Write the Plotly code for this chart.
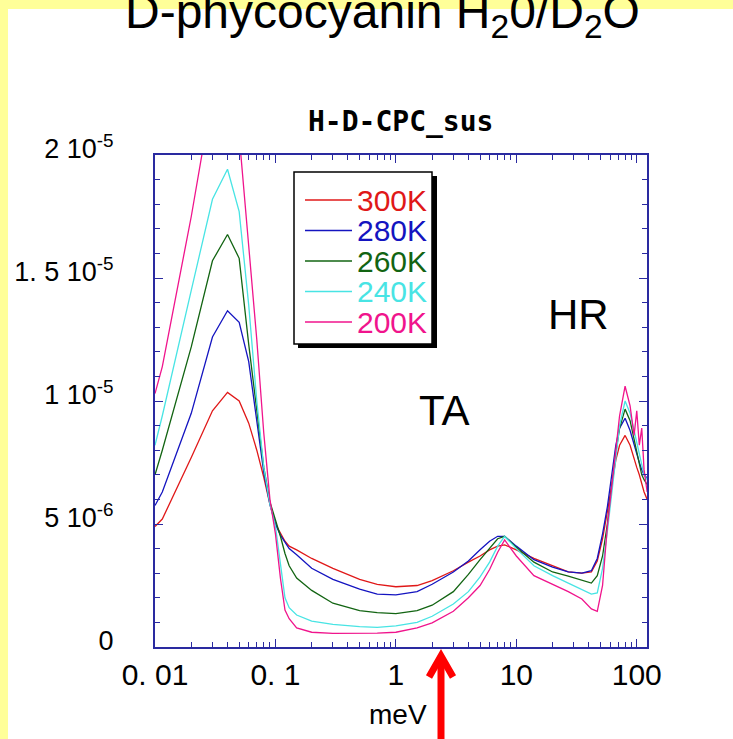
import plotly.graph_objects as go

# ---------------- data ----------------
energy_meV = [0.01, 0.0115, 0.02, 0.03, 0.04, 0.05, 0.06, 0.07, 0.08, 0.09, 0.1, 0.11, 0.12, 0.13,
              0.15, 0.2, 0.3, 0.5, 0.7, 1.0, 1.5, 2, 3, 4, 5, 6, 7, 8, 10, 14, 20, 27, 35, 42,
              47, 52, 57, 62, 67, 72, 80, 88, 95, 100, 105, 110, 115, 122]

# susceptibility values in units of 1e-6
sus_300K = [4.9, 5.2, 7.7, 9.6, 10.35, 10.0, 9.1, 8.0, 6.9, 5.8, 5.0, 4.6, 4.3, 4.1, 3.95, 3.6, 3.2,
            2.75, 2.55, 2.45, 2.5, 2.7, 3.1, 3.45, 3.7, 3.95, 4.1, 4.15, 3.95, 3.6, 3.3, 3.05, 3.0,
            3.05, 3.5, 4.4, 5.5, 6.7, 7.6, 8.2, 8.6, 8.2, 7.6, 7.3, 7.0, 6.6, 6.3, 6.0]
sus_280K = [5.75, 6.3, 9.5, 12.6, 13.67, 13.2, 11.6, 9.3, 7.1, 5.8, 5.0, 4.55, 4.25, 4.0, 3.75, 3.2,
            2.75, 2.35, 2.15, 2.12, 2.25, 2.55, 3.05, 3.5, 3.95, 4.3, 4.5, 4.5, 4.1, 3.55, 3.25, 3.05,
            3.0, 3.1, 3.6, 4.6, 5.7, 7.0, 8.2, 8.9, 9.3, 8.8, 8.2, 7.9, 7.5, 7.2, 7.0, 6.86]
sus_260K = [7.0, 8.0, 12.2, 15.7, 16.77, 15.8, 12.3, 9.6, 7.3, 5.9, 5.2, 4.5, 3.8, 3.3, 2.8, 2.3,
            1.78, 1.48, 1.4, 1.36, 1.48, 1.7, 2.25, 2.95, 3.55, 4.0, 4.4, 4.5, 4.05, 3.45, 3.05, 2.88,
            2.7, 2.6, 2.9, 3.7, 5.0, 6.5, 7.9, 8.9, 9.67, 9.2, 8.4, 8.0, 7.4, 7.0, 6.8, 6.6]
sus_240K = [8.2, 9.4, 14.5, 18.2, 19.42, 17.7, 13.9, 10.0, 7.3, 5.8, 4.9, 3.3, 2.0, 1.6, 1.3, 1.05,
            0.92, 0.83, 0.8, 0.86, 1.0, 1.25, 1.75, 2.25, 2.85, 3.45, 4.1, 4.5, 4.0, 3.3, 2.9, 2.6,
            2.35, 2.15, 2.2, 3.2, 4.7, 6.3, 7.8, 9.0, 10.0, 9.5, 8.8, 8.3, 7.8, 7.4, 7.0, 6.8]
sus_200K = [10.3, 11.4, 17.5, 22.5, 24.0, 20.8, 16.3, 12.5, 8.7, 6.0, 4.6, 2.8, 1.5, 1.15, 0.78, 0.6,
            0.55, 0.54, 0.56, 0.6, 0.78, 0.98, 1.45, 2.0, 2.5, 3.15, 3.85, 4.35, 3.7, 2.9, 2.55, 2.25,
            1.95, 1.55, 1.45, 2.5, 4.9, 6.6, 8.0, 9.4, 10.6, 9.8, 8.6, 9.6, 8.2, 8.9, 7.2, 6.3]

series_names = ["300K", "280K", "260K", "240K", "200K"]
series_values = [sus_300K, sus_280K, sus_260K, sus_240K, sus_200K]
series_colors = ["#e01818", "#1414c0", "#126412", "#48e4e4", "#f0148c"]

x_tick_vals = [0.01, 0.1, 1, 10, 100]
x_tick_text = ["0. 01", "0. 1", "1", "10", "100"]
x_minor_vals = [m * d for d in (0.01, 0.1, 1, 10) for m in range(2, 10)]
y_tick_vals = [0, 5e-6, 1e-5, 1.5e-5, 2e-5]
y_tick_text = ["0", "5 10<sup>-6</sup>", "1 10<sup>-5</sup>", "1. 5 10<sup>-5</sup>", "2 10<sup>-5</sup>"]

# ---------------- layout helpers ----------------
W, H = 733, 739
L, T, R, B = 155, 155, 86, 92
PW, PH = W - L - R, H - T - B


def PX(x):
    return (x - L) / PW


def PY(y):
    return (H - B - y) / PH


AXIS_COLOR = "#2a2aa0"
NARROW = "Liberation Sans Narrow, Arial Narrow, Liberation Sans, Arial, sans-serif"
SANS = "Liberation Sans, Arial, sans-serif"


def note(text, x, y, size, family=SANS, color="black", xanchor="center"):
    return dict(text=text, x=PX(x), y=PY(y), xref="paper", yref="paper", showarrow=False,
                xanchor=xanchor, yanchor="middle", font=dict(family=family, size=size, color=color))


fig = go.Figure()
for name, vals, col in zip(series_names, series_values, series_colors):
    fig.add_trace(go.Scatter(
        x=energy_meV, y=[v * 1e-6 for v in vals], mode="lines", name=name,
        line=dict(color=col, width=1.3), showlegend=False))

shapes = [
    # white page inside the yellow frame
    dict(type="rect", xref="paper", yref="paper", x0=PX(8), x1=PX(760), y0=PY(9), y1=PY(760),
         fillcolor="white", line=dict(width=0), layer="below"),
]

annotations = [
    note("D-phycocyanin H<sub>2</sub>0/D<sub>2</sub>O", 382, 15, 48),
    note("<b>H-D-CPC_sus</b>", 400, 122, 28, family="DejaVu Sans Mono"),
    note("HR", 578, 314, 42),
    note("TA", 444, 410, 42),
    note("meV", 398, 714, 28, family=NARROW),
]

# legend box (drawn as a framed key)
shapes.append(dict(type="rect", xref="paper", yref="paper", x0=PX(298), x1=PX(437), y0=PY(176), y1=PY(348),
                   fillcolor="black", line=dict(width=0), layer="above"))
shapes.append(dict(type="rect", xref="paper", yref="paper", x0=PX(294), x1=PX(432), y0=PY(172), y1=PY(344),
                   fillcolor="white", line=dict(color="black", width=1.5), layer="above"))
row_y = [200, 230.5, 261, 291.5, 322]
for name, col, ry in zip(series_names, series_colors, row_y):
    shapes.append(dict(type="line", xref="paper", yref="paper", x0=PX(305), x1=PX(352), y0=PY(ry), y1=PY(ry),
                       line=dict(color=col, width=1.3), layer="above"))
    annotations.append(note(name, 355, ry, 30, family=NARROW, color=col, xanchor="left"))

# red arrow
shapes.append(dict(type="line", xref="paper", yref="paper", x0=PX(441), x1=PX(441), y0=PY(760), y1=PY(660),
                   line=dict(color="#ff0000", width=7)))
shapes.append(dict(type="path", xref="paper", yref="paper",
                   path=f"M {PX(429)},{PY(677)} L {PX(441)},{PY(656)} L {PX(453)},{PY(677)}",
                   line=dict(color="#ff0000", width=7)))

fig.update_layout(
    width=W, height=H,
    margin=dict(l=L, r=R, t=T, b=B, pad=0, autoexpand=False),
    paper_bgcolor="#ffff99", plot_bgcolor="white",
    showlegend=False,
    shapes=shapes, annotations=annotations,
    xaxis=dict(type="log", range=[-2, 2.085], tickmode="array", tickvals=x_tick_vals, ticktext=x_tick_text,
               ticks="inside", ticklen=8, tickwidth=1.2, tickcolor=AXIS_COLOR,
               minor=dict(tickmode="array", tickvals=x_minor_vals, ticks="inside", ticklen=5,
                          tickwidth=1.2, tickcolor=AXIS_COLOR, showgrid=False),
               showline=True, linecolor=AXIS_COLOR, linewidth=2, mirror="allticks",
               showgrid=False, zeroline=False, ticklabelstandoff=0, automargin=False,
               tickfont=dict(family=NARROW, size=30, color="black")),
    yaxis=dict(range=[0, 2e-5], tickmode="array", tickvals=y_tick_vals, ticktext=y_tick_text,
               ticks="inside", ticklen=8, tickwidth=1.2, tickcolor=AXIS_COLOR,
               minor=dict(dtick=1e-6, ticks="inside", ticklen=5, tickwidth=1.2, tickcolor=AXIS_COLOR,
                          showgrid=False),
               showline=True, linecolor=AXIS_COLOR, linewidth=2, mirror="allticks",
               showgrid=False, zeroline=False, ticklabelstandoff=34, ticklabelshift=-6,
               automargin=False,
               tickfont=dict(family=NARROW, size=27, color="black")),
)

fig.write_html("out.html")
